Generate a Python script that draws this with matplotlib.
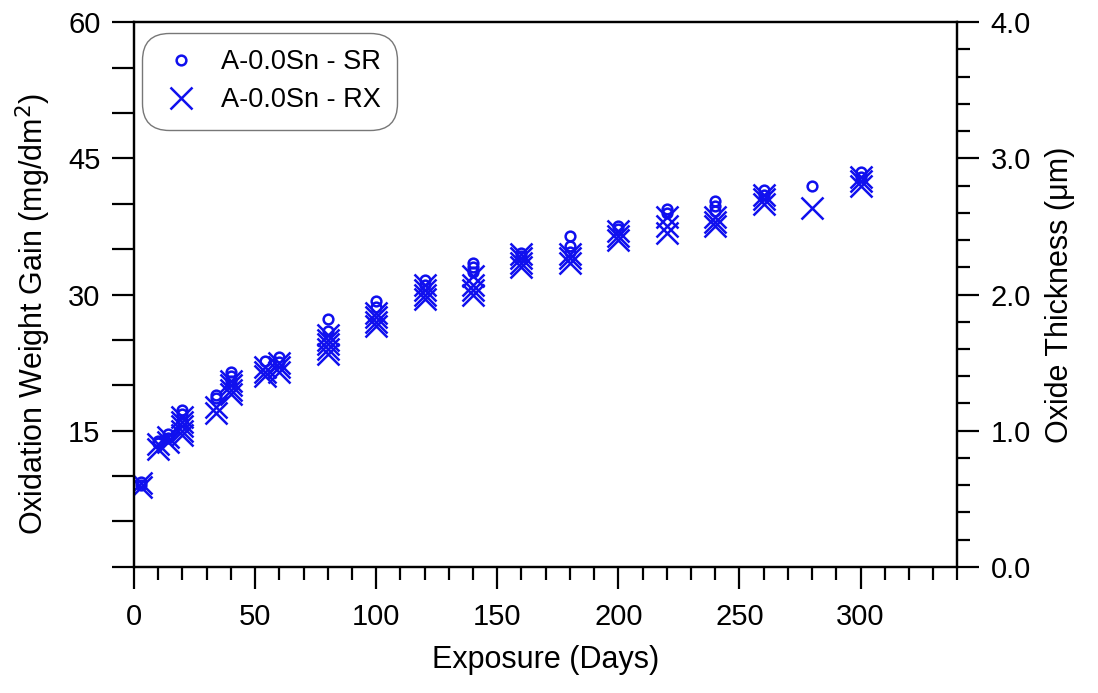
import matplotlib
matplotlib.use("Agg")
import matplotlib.pyplot as plt
from matplotlib.ticker import MultipleLocator, FormatStrFormatter

plt.rcParams['font.family'] = ['Liberation Sans', 'DejaVu Sans']

# SR series (open circles)
sr_days = [3, 3, 10, 10, 14, 14, 20, 20, 20, 34, 34, 40, 40, 40, 54, 60, 60,
           80, 80, 100, 100, 120, 120, 140, 140, 140, 160, 160, 180, 180, 180,
           200, 200, 220, 220, 240, 240, 240, 260, 260, 280, 300, 300]
sr_vals = [9.3, 9.0, 13.6, 13.9, 14.6, 14.2, 17.3, 16.8, 16.1, 18.6, 18.9, 21.5, 21.0, 20.5, 22.7, 23.1, 22.6,
           27.3, 26.0, 29.3, 28.6, 31.6, 31.0, 33.5, 33.0, 32.5, 34.6, 34.2, 36.5, 35.3, 34.7,
           37.6, 37.2, 39.4, 39.0, 40.3, 39.7, 39.2, 41.5, 41.0, 41.9, 43.5, 43.0]

# RX series (crosses)
rx_days = [3, 3, 10, 10, 14, 14, 20, 20, 20, 20, 20, 34, 34, 40, 40, 40, 40,
           54, 54, 54, 60, 60, 60, 80, 80, 80, 80, 80, 100, 100, 100, 100,
           120, 120, 120, 120, 140, 140, 140, 140, 160, 160, 160, 160,
           180, 180, 180, 200, 200, 200, 220, 220, 220, 240, 240, 240,
           260, 260, 260, 280, 300, 300, 300]
rx_vals = [9.2, 8.8, 13.0, 13.5, 13.8, 14.3, 14.5, 15.0, 15.5, 16.0, 16.5, 17.0, 17.6, 19.0, 19.5, 20.0, 20.5,
           21.0, 21.5, 22.0, 21.5, 22.0, 22.5, 23.5, 24.0, 24.5, 25.0, 25.5, 26.5, 27.0, 27.5, 28.0,
           29.5, 30.0, 30.5, 31.0, 30.0, 30.5, 31.0, 32.0, 33.0, 33.5, 34.0, 34.5,
           33.5, 34.0, 34.5, 36.0, 36.5, 37.0, 36.8, 37.5, 38.5, 37.5, 38.0, 38.5,
           40.0, 40.5, 41.0, 39.5, 42.0, 42.5, 43.0]

x_ticks = [0, 50, 100, 150, 200, 250, 300]
y_ticks = [15, 30, 45, 60]
y2_ticks = [0.0, 1.0, 2.0, 3.0, 4.0]

fig = plt.figure(figsize=(10.98, 6.93), dpi=100)
ax = fig.add_axes([0.122, 0.182, 0.750, 0.786])
blue = '#1010ee'

ax.plot(sr_days, sr_vals, linestyle='none', marker='o', markersize=7,
        markerfacecolor='none', markeredgecolor=blue, markeredgewidth=1.8,
        label='A-0.0Sn - SR')
ax.plot(rx_days, rx_vals, linestyle='none', marker='x', markersize=16,
        color=blue, markeredgewidth=1.8, label='A-0.0Sn - RX')

ax.set_xlim(0, 340)
ax.set_ylim(0, 60)
ax.set_xticks(x_ticks)
ax.set_yticks(y_ticks)
ax.xaxis.set_minor_locator(MultipleLocator(10))
ax.yaxis.set_minor_locator(MultipleLocator(5))
ax.tick_params(axis='both', which='major', direction='out', length=16, width=1.6,
               labelsize=21)
ax.tick_params(axis='x', which='major', pad=10)
ax.tick_params(axis='y', which='major', pad=8)
ax.tick_params(axis='y', which='minor', direction='out', length=16, width=1.6)
ax.tick_params(axis='x', which='minor', direction='out', length=9, width=1.6)
for s in ax.spines.values():
    s.set_linewidth(1.6)

ax.set_xlabel('Exposure (Days)', fontsize=22, labelpad=10)
ax.set_ylabel('Oxidation Weight Gain (mg/dm$^2$)', fontsize=22)
ax.yaxis.set_label_coords(-0.098, 0.465)

ax2 = ax.twinx()
ax2.set_ylim(0, 4)
ax2.set_yticks(y2_ticks)
ax2.yaxis.set_major_formatter(FormatStrFormatter('%.1f'))
ax2.yaxis.set_minor_locator(MultipleLocator(0.2))
ax2.tick_params(axis='y', which='major', direction='out', length=16, width=1.6,
                labelsize=21, pad=8)
ax2.tick_params(axis='y', which='minor', direction='out', length=9, width=1.6)
for s in ax2.spines.values():
    s.set_linewidth(1.6)
ax2.set_ylabel('Oxide Thickness (\u03bcm)', fontsize=22, labelpad=10)

leg = ax.legend(loc='upper left', bbox_to_anchor=(0.0, 0.995), fontsize=19.5,
                frameon=True, fancybox=True, edgecolor='#555555',
                borderpad=0.6, labelspacing=0.45, handletextpad=0.6,
                borderaxespad=0.3, handlelength=1.7)
leg.get_frame().set_linewidth(1.0)
leg.get_frame().set_boxstyle('round', pad=0.0, rounding_size=1.0)

fig.savefig('out.png', dpi=100)
